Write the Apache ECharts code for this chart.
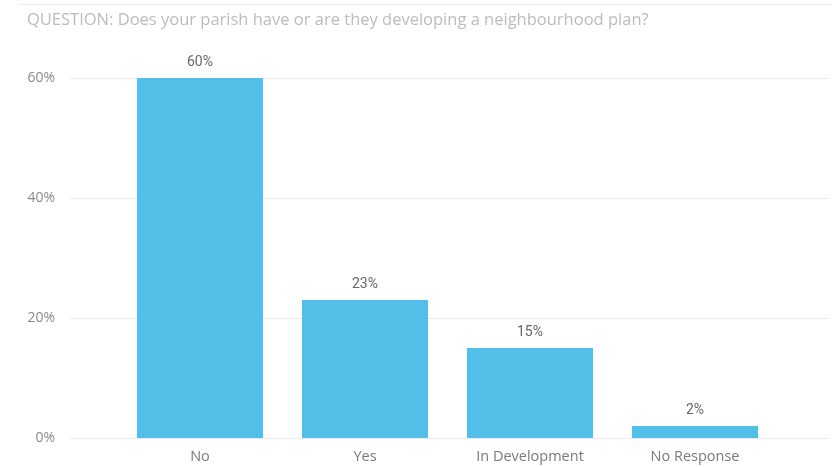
<!DOCTYPE html>
<html>
<head>
<meta charset="utf-8">
<script src="https://cdn.jsdelivr.net/npm/echarts@6/dist/echarts.min.js"></script>
<style>
  html, body { margin: 0; padding: 0; background: #fff; }
  #chart { width: 836px; height: 467px; }
</style>
</head>
<body>
<div id="chart"></div>
<script>
// Survey answers and their share of responses (%)
const categories = ['No', 'Yes', 'In Development', 'No Response'];
const shares = [60, 23, 15, 2];
const yTicks = [0, 20, 40, 60];

const questionTitle = 'QUESTION: Does your parish have or are they developing a neighbourhood plan?';

const chart = echarts.init(document.getElementById('chart'), null, { renderer: 'canvas' });

const yMin = yTicks[0];
const yMax = yTicks[yTicks.length - 1];
const yStep = yTicks[1] - yTicks[0];

chart.setOption({
  backgroundColor: '#ffffff',
  animation: false,
  title: {
    text: questionTitle,
    left: 22,
    top: 7,
    textStyle: {
      fontFamily: 'Open Sans',
      fontSize: 16.5,
      fontWeight: 'normal',
      color: '#bcbcbc'
    }
  },
  graphic: [{
    type: 'line',
    shape: { x1: 20, y1: 4.5, x2: 832, y2: 4.5 },
    style: { stroke: '#ececec', lineWidth: 1 }
  }],
  grid: [
    // wide grid: value labels and gridlines
    { left: 70, right: 6, top: 78, bottom: 29 },
    // inner grid: category bands for the bars
    { left: 117.5, right: 58.5, top: 78, bottom: 29 }
  ],
  xAxis: [
    { type: 'category', gridIndex: 0, data: categories, show: false },
    {
      type: 'category',
      gridIndex: 1,
      data: categories,
      axisLine: { show: false },
      axisTick: { show: false },
      axisLabel: {
        margin: 11,
        fontFamily: 'Open Sans',
        fontSize: 14.5,
        color: '#7a7a7a'
      }
    }
  ],
  yAxis: [
    {
      type: 'value',
      gridIndex: 0,
      min: yMin,
      max: yMax,
      interval: yStep,
      axisLine: { show: false },
      axisTick: { show: false },
      axisLabel: {
        margin: 15,
        fontFamily: 'Open Sans',
        fontSize: 14,
        color: '#8a8a8a',
        formatter: v => v + '%'
      },
      splitLine: { lineStyle: { color: '#ececec', width: 1 } }
    },
    {
      type: 'value',
      gridIndex: 1,
      min: yMin,
      max: yMax,
      interval: yStep,
      show: false,
      splitLine: { show: false }
    }
  ],
  series: [{
    type: 'bar',
    xAxisIndex: 1,
    yAxisIndex: 1,
    data: shares,
    barWidth: '76.4%',
    itemStyle: { color: '#51bfe7' },
    label: {
      show: true,
      position: 'top',
      distance: 9,
      fontFamily: 'Roboto',
      fontSize: 14,
      color: '#666666',
      formatter: p => p.value + '%'
    }
  }]
});
</script>
</body>
</html>
